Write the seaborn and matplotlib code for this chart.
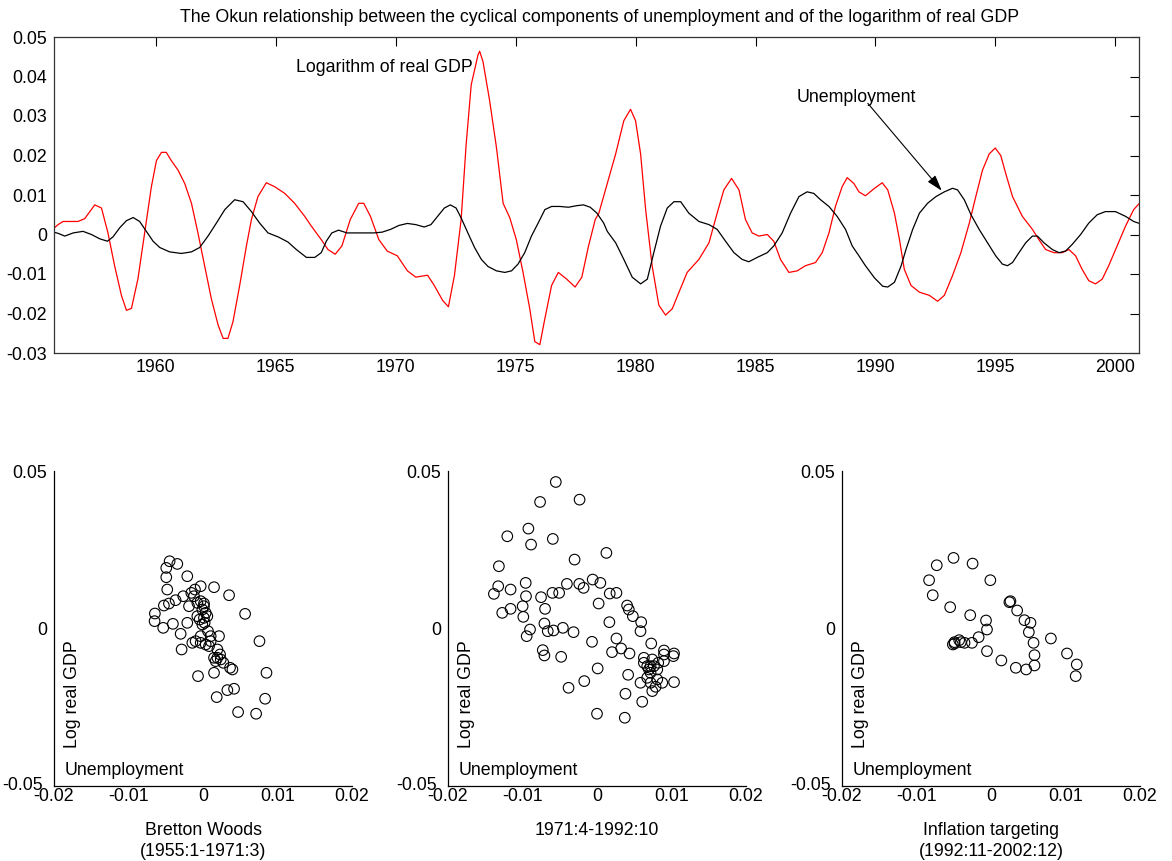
import matplotlib
matplotlib.use("Agg")
import matplotlib.pyplot as plt
import matplotlib.transforms as mtransforms
import seaborn as sns
import numpy as np

# ---------------- data ----------------
gdp_year = [1955.74, 1955.93, 1956.14, 1956.76, 1957.04, 1957.46, 1957.74, 1958.01, 1958.29, 1958.57, 1958.78,
            1958.99, 1959.26, 1959.54, 1959.82, 1960.03, 1960.24, 1960.44, 1960.65, 1960.93, 1961.21,
            1961.49, 1961.76, 1962.04, 1962.32, 1962.60, 1962.81, 1963.01, 1963.22, 1963.50, 1963.78,
            1963.99, 1964.26, 1964.61, 1964.96, 1965.38, 1965.79, 1966.21, 1966.49, 1966.90, 1967.18,
            1967.48, 1967.76, 1968.11, 1968.46, 1968.67, 1968.95, 1969.30, 1969.65, 1970.07, 1970.49,
            1970.84, 1971.33, 1971.61, 1971.96, 1972.20, 1972.45, 1972.73, 1972.94, 1973.15, 1973.43,
            1973.50, 1973.64, 1973.92, 1974.20, 1974.48, 1974.76, 1975.03, 1975.31, 1975.59, 1975.80,
            1976.01, 1976.22, 1976.50, 1976.78, 1977.13, 1977.48, 1977.76, 1978.04, 1978.32, 1978.47,
            1978.82, 1979.17, 1979.51, 1979.79, 1980.00, 1980.21, 1980.42, 1980.69, 1980.97, 1981.25,
            1981.53, 1981.81, 1982.15, 1982.64, 1983.06, 1983.40, 1983.68, 1984.00, 1984.31, 1984.58,
            1984.86, 1985.14, 1985.49, 1985.76, 1986.04, 1986.39, 1986.74, 1987.08, 1987.50, 1987.78,
            1988.06, 1988.33, 1988.61, 1988.82, 1989.10, 1989.31, 1989.58, 1989.96, 1990.28, 1990.51,
            1990.79, 1991.00, 1991.20, 1991.48, 1991.83, 1992.24, 1992.59, 1992.87, 1993.21, 1993.56,
            1993.91, 1994.18, 1994.46, 1994.74, 1994.99, 1995.22, 1995.43, 1995.71, 1996.12, 1996.54,
            1996.81, 1997.09, 1997.44, 1997.78, 1998.06, 1998.34, 1998.61, 1998.89, 1999.17, 1999.45,
            1999.72, 2000.07, 2000.42, 2000.76, 2001.00]
gdp_val = [0.0015, 0.0025, 0.0033, 0.0033, 0.0040, 0.0075, 0.0067, 0.0004, -0.0080, -0.0154, -0.0192,
           -0.0187, -0.0112, 0.0004, 0.0121, 0.0187, 0.0208, 0.0208, 0.0187, 0.0163, 0.0129,
           0.0079, 0.0004, -0.0079, -0.0163, -0.0229, -0.0263, -0.0263, -0.0221, -0.0129, -0.0029,
           0.0038, 0.0096, 0.0131, 0.0121, 0.0104, 0.0079, 0.0046, 0.0021, -0.0013, -0.0038,
           -0.0050, -0.0029, 0.0038, 0.0079, 0.0079, 0.0046, -0.0013, -0.0042, -0.0054, -0.0092,
           -0.0108, -0.0103, -0.0129, -0.0167, -0.0183, -0.0104, 0.0038, 0.0229, 0.0379, 0.0454,
           0.0464, 0.0438, 0.0338, 0.0221, 0.0079, 0.0042, -0.0013, -0.0096, -0.0188, -0.0271,
           -0.0279, -0.0213, -0.0129, -0.0096, -0.0113, -0.0133, -0.0108, -0.0029, 0.0038, 0.0054,
           0.0129, 0.0204, 0.0288, 0.0317, 0.0288, 0.0204, 0.0063, -0.0079, -0.0179, -0.0204,
           -0.0188, -0.0146, -0.0096, -0.0063, -0.0021, 0.0054, 0.0113, 0.0142, 0.0113, 0.0038,
           0.0004, -0.0004, 0.0000, -0.0017, -0.0063, -0.0096, -0.0092, -0.0079, -0.0071, -0.0046,
           0.0004, 0.0071, 0.0121, 0.0144, 0.0129, 0.0108, 0.0098, 0.0117, 0.0131, 0.0113,
           0.0054, -0.0013, -0.0088, -0.0129, -0.0146, -0.0154, -0.0169, -0.0154, -0.0104, -0.0046,
           0.0029, 0.0096, 0.0163, 0.0204, 0.0219, 0.0200, 0.0154, 0.0096, 0.0046, 0.0013,
           -0.0013, -0.0038, -0.0046, -0.0046, -0.0038, -0.0054, -0.0088, -0.0117, -0.0125, -0.0113,
           -0.0079, -0.0029, 0.0021, 0.0063, 0.0079]

unemp_year = [1955.74, 1955.93, 1956.21, 1956.56, 1956.97, 1957.32, 1957.67, 1957.99, 1958.22, 1958.50, 1958.78,
              1959.06, 1959.33, 1959.61, 1959.89, 1960.17, 1960.58, 1961.07, 1961.49, 1961.83, 1962.18,
              1962.53, 1962.88, 1963.29, 1963.64, 1963.99, 1964.33, 1964.68, 1965.10, 1965.51, 1965.86,
              1966.28, 1966.63, 1966.90, 1967.11, 1967.34, 1967.62, 1967.97, 1968.53, 1969.09, 1969.44,
              1969.79, 1970.14, 1970.49, 1970.84, 1971.19, 1971.47, 1971.75, 1972.03, 1972.28, 1972.52,
              1972.73, 1973.01, 1973.29, 1973.57, 1973.85, 1974.20, 1974.55, 1974.83, 1975.10, 1975.38,
              1975.66, 1975.94, 1976.22, 1976.50, 1976.85, 1977.20, 1977.55, 1977.83, 1978.11, 1978.39,
              1978.67, 1978.82, 1979.17, 1979.51, 1979.86, 1980.21, 1980.49, 1980.76, 1981.04, 1981.32,
              1981.60, 1981.88, 1982.22, 1982.64, 1983.06, 1983.40, 1983.75, 1984.10, 1984.44, 1984.72,
              1985.07, 1985.49, 1985.76, 1986.11, 1986.46, 1986.81, 1987.15, 1987.43, 1987.71, 1988.06,
              1988.40, 1988.75, 1989.03, 1989.31, 1989.58, 1989.96, 1990.30, 1990.51, 1990.79, 1991.07,
              1991.27, 1991.55, 1991.83, 1992.17, 1992.52, 1992.87, 1993.21, 1993.42, 1993.70, 1993.98,
              1994.32, 1994.67, 1995.01, 1995.29, 1995.50, 1995.71, 1995.98, 1996.26, 1996.54, 1996.75,
              1997.02, 1997.37, 1997.65, 1997.92, 1998.20, 1998.55, 1998.89, 1999.24, 1999.58, 2000.00,
              2000.42, 2000.76, 2001.00]
unemp_val = [0.0006, 0.0003, -0.0004, 0.0004, 0.0008, 0.0000, -0.0011, -0.0017, -0.0006, 0.0017, 0.0035,
             0.0043, 0.0033, 0.0008, -0.0017, -0.0033, -0.0044, -0.0048, -0.0044, -0.0033, -0.0004,
             0.0029, 0.0063, 0.0088, 0.0083, 0.0058, 0.0029, 0.0004, -0.0006, -0.0019, -0.0038,
             -0.0058, -0.0058, -0.0046, -0.0017, 0.0004, 0.0011, 0.0004, 0.0004, 0.0004, 0.0006,
             0.0013, 0.0023, 0.0028, 0.0025, 0.0019, 0.0025, 0.0046, 0.0067, 0.0075, 0.0067,
             0.0042, 0.0004, -0.0033, -0.0063, -0.0081, -0.0092, -0.0096, -0.0092, -0.0075, -0.0046,
             -0.0004, 0.0029, 0.0063, 0.0071, 0.0071, 0.0069, 0.0073, 0.0075, 0.0069, 0.0054,
             0.0029, 0.0008, -0.0021, -0.0063, -0.0108, -0.0125, -0.0113, -0.0046, 0.0021, 0.0067,
             0.0083, 0.0083, 0.0054, 0.0033, 0.0025, 0.0013, -0.0017, -0.0046, -0.0063, -0.0069,
             -0.0058, -0.0046, -0.0029, 0.0004, 0.0054, 0.0096, 0.0108, 0.0104, 0.0088, 0.0071,
             0.0046, 0.0013, -0.0029, -0.0054, -0.0079, -0.0110, -0.0131, -0.0133, -0.0121, -0.0079,
             -0.0038, 0.0013, 0.0054, 0.0079, 0.0096, 0.0108, 0.0117, 0.0113, 0.0088, 0.0050,
             0.0013, -0.0021, -0.0054, -0.0075, -0.0079, -0.0071, -0.0046, -0.0021, -0.0004, -0.0004,
             -0.0021, -0.0038, -0.0046, -0.0042, -0.0025, 0.0000, 0.0029, 0.0050, 0.0058, 0.0058,
             0.0046, 0.0033, 0.0028]

# Scatter panels: (unemployment, log real GDP)
bw_unemp = [-0.00448, -0.00345, -0.00493, -0.00493, -0.00480, -0.00211, -0.00031, 0.00148, 0.00350, -0.00108,
            -0.00157, -0.00265, -0.00368, -0.00525, -0.00457, -0.00646, -0.00650, -0.00534, -0.00404, -0.00300,
            -0.00287, -0.00211, -0.00188, -0.00076, -0.00031, 0.00013, -0.00009, 0.00036, -0.00076, -0.00045,
            0.00013, 0.00058, 0.00022, -0.00009, 0.00067, 0.00215, -0.00031, -0.00099, -0.00031, 0.00036,
            0.00081, 0.00103, 0.00193, 0.00229, 0.00193, 0.00170, 0.00238, 0.00274, 0.00395, 0.00363,
            0.00148, -0.00067, 0.00565, 0.00758, 0.00852, 0.00417, 0.00327, 0.00184, 0.00834, 0.00471,
            0.00713, -0.00143, 0.00103, 0.00148, 0.00013, -0.00121]
bw_gdp = [0.02135, 0.02050, 0.01924, 0.01628, 0.01237, 0.01660, 0.01342, 0.01311, 0.01057, 0.01237,
          0.01131, 0.01025, 0.00899, 0.00729, 0.00793, 0.00476, 0.00233, 0.00021, 0.00148, -0.00169,
          -0.00666, 0.00180, 0.00708, 0.00814, 0.00867, 0.00793, 0.00603, 0.00497, 0.00391, 0.00285,
          0.00338, 0.00391, 0.00180, 0.00127, -0.00085, -0.00243, -0.00243, -0.00402, -0.00455, -0.00507,
          -0.00560, -0.00402, -0.00666, -0.00825, -0.00930, -0.01036, -0.00983, -0.01089, -0.01300, -0.01247,
          -0.01406, -0.01512, 0.00465, -0.00402, -0.01406, -0.01913, -0.01956, -0.02178, -0.02230, -0.02653,
          -0.02706, -0.00455, -0.00243, -0.00930, 0.00708, 0.01025]

mid_unemp = [-0.00553, -0.00764, -0.00234, -0.00921, -0.01204, -0.00593, -0.00885, 0.00126, -0.00301, -0.01317,
             -0.01384, -0.01326, -0.01160, -0.00957, -0.00953, -0.00751, -0.00697, -0.00998, -0.01272, -0.01160,
             -0.00989, -0.00899, -0.00944, -0.00706, -0.00661, -0.00584, -0.00458, -0.00315, -0.00728, -0.00706,
             -0.00481, -0.00598, -0.00508, -0.00404, -0.00238, -0.00180, -0.00058, 0.00045, 0.00022, 0.00171,
             0.00261, 0.00166, 0.00404, 0.00427, 0.00481, 0.00593, 0.00584, -0.00067, 0.00261, 0.00202,
             0.00324, 0.00436, 0.00728, 0.00899, 0.01034, 0.01025, 0.00899, 0.00629, 0.00674, 0.00697,
             0.00764, 0.00809, 0.00719, 0.00674, 0.00809, 0.00876, 0.00584, 0.01034, 0.00418, 0.00009,
             -0.00171, -0.00382, 0.00382, 0.00607, 0.00000, 0.00373, 0.00742, 0.00787, 0.00719, 0.00629,
             0.00822, 0.00742, 0.00719, 0.00899]
mid_gdp = [0.04651, 0.04017, 0.04091, 0.03171, 0.02928, 0.02844, 0.02664, 0.02400, 0.02188, 0.01977,
           0.01099, 0.01342, 0.01237, 0.01448, 0.01025, 0.00994, 0.00624, 0.00708, 0.00497, 0.00624,
           0.00370, -0.00032, -0.00243, 0.00159, -0.00085, -0.00063, 0.00021, -0.00116, -0.00687, -0.00856,
           -0.00899, 0.01131, 0.01131, 0.01416, 0.01416, 0.01290, 0.01554, 0.01448, 0.00793, 0.01110,
           0.01131, 0.00201, 0.00729, 0.00603, 0.00391, 0.00201, -0.00085, -0.00423, -0.00317, -0.00750,
           -0.00634, -0.00793, -0.00476, -0.00698, -0.00793, -0.00877, -0.01036, -0.01089, -0.01195, -0.01300,
           -0.01195, -0.01300, -0.01406, -0.01564, -0.01617, -0.01723, -0.01723, -0.01702, -0.01469, -0.01268,
           -0.01670, -0.01882, -0.02072, -0.02326, -0.02706, -0.02833, -0.01987, -0.01850, -0.01195, -0.00930,
           -0.01089, -0.00983, -0.01723, -0.00825]

it_unemp = [-0.00503, -0.00728, -0.00247, -0.00831, -0.00009, -0.00782, -0.00548, -0.00279, -0.00067, -0.00054,
            -0.00166, -0.00256, -0.00355, -0.00427, -0.00490, -0.00512, -0.00054, 0.00139, 0.00333, 0.00472,
            0.00584, 0.00584, 0.00571, 0.00508, 0.00530, 0.00449, 0.00351, 0.00247, 0.00261, 0.00804,
            0.01020, 0.01151, 0.01137, -0.00490, -0.00404]
it_gdp = [0.02241, 0.02008, 0.02061, 0.01533, 0.01533, 0.01057, 0.00677, 0.00423, 0.00254, -0.00032,
          -0.00275, -0.00455, -0.00455, -0.00370, -0.00433, -0.00507, -0.00719, -0.01015, -0.01247, -0.01300,
          -0.01173, -0.00846, -0.00455, -0.00116, 0.00180, 0.00264, 0.00571, 0.00835, 0.00867, -0.00317,
          -0.00793, -0.01142, -0.01512, -0.00476, -0.00433]

panel_labels = ["Bretton Woods\n(1955:1-1971:3)", "1971:4-1992:10", "Inflation targeting\n(1992:11-2002:12)"]
title = "The Okun relationship between the cyclical components of unemployment and of the logarithm of real GDP"

# ---------------- style ----------------
sns.set_style("white")
plt.rcParams["font.family"] = ["Liberation Sans", "DejaVu Sans"]
plt.rcParams["axes.unicode_minus"] = False
for k in ("text.color", "axes.labelcolor", "xtick.color", "ytick.color", "axes.edgecolor"):
    plt.rcParams[k] = "black"
FS = 12.8
W, H = 1172, 861


def fmt(v, pos=None):
    return "%g" % round(v, 6)


fig = plt.figure(figsize=(W / 100, H / 100), dpi=100)

# ---------------- top time-series panel ----------------
ax = fig.add_axes([53.5 / W, (H - 353) / H, (1138.7 - 53.5) / W, (353 - 37) / H])
sns.lineplot(x=gdp_year, y=gdp_val, ax=ax, color="red", linewidth=0.9, sort=False, estimator=None)
sns.lineplot(x=unemp_year, y=unemp_val, ax=ax, color="black", linewidth=0.9, sort=False, estimator=None)
ax.set_xlim(1955.74, 2000.97)
ax.set_ylim(-0.03, 0.05)
ax.set_xticks(np.arange(1960, 2001, 5))
ax.set_yticks(np.round(np.arange(-0.03, 0.0501, 0.01), 2))
ax.yaxis.set_major_formatter(matplotlib.ticker.FuncFormatter(fmt))
ax.tick_params(direction="in", length=6.5, width=0.8, top=True, right=True, labelsize=FS, pad=4.5)
for sp in ax.spines.values():
    sp.set_color("#333333")
    sp.set_linewidth(0.9)
ax.set_xlabel("")
ax.set_ylabel("")
ax.text(1965.83, 0.0423, "Logarithm of real GDP", fontsize=FS, ha="left", va="center")
ax.text(1986.7, 0.0348, "Unemployment", fontsize=FS, ha="left", va="center")
ax.annotate("", xy=(1992.76, 0.0111), xytext=(1989.68, 0.0332),
            arrowprops=dict(arrowstyle="-|>,head_length=0.8,head_width=0.25", color="black",
                            lw=0.8, shrinkA=0, shrinkB=0, mutation_scale=12))
fig.text(600 / W, 1 - 17 / H, title, fontsize=FS, ha="center", va="center")

# ---------------- scatter panels ----------------
lefts = [54, 448, 842]
data = [(bw_unemp, bw_gdp), (mid_unemp, mid_gdp), (it_unemp, it_gdp)]
for left, (ux, gy), lab in zip(lefts, data, panel_labels):
    a = fig.add_axes([left / W, (H - 786) / H, 298 / W, 315 / H])
    sns.scatterplot(x=ux, y=gy, ax=a, marker="o", s=58, facecolor="none",
                    edgecolor="black", linewidth=0.8)
    a.set_xlim(-0.02, 0.02)
    a.set_ylim(-0.05, 0.05)
    a.set_xticks([-0.02, -0.01, 0, 0.01, 0.02])
    a.set_yticks([-0.05, 0, 0.05])
    a.xaxis.set_major_formatter(matplotlib.ticker.FuncFormatter(fmt))
    a.yaxis.set_major_formatter(matplotlib.ticker.FuncFormatter(fmt))
    a.tick_params(direction="in", length=3.5, width=0.8, labelsize=FS)
    a.tick_params(axis="x", pad=1.5)
    a.tick_params(axis="y", pad=5)
    a.spines["top"].set_visible(False)
    a.spines["right"].set_visible(False)
    for s in ("left", "bottom"):
        a.spines[s].set_color("black")
        a.spines[s].set_linewidth(0.9)
    # the lowest y label sits slightly left and up, as in the reference
    lo = a.get_yticklabels()[0]
    lo.set_transform(lo.get_transform() +
                     mtransforms.ScaledTranslation(-4 / 100, 2 / 100, fig.dpi_scale_trans))
    a.set_xlabel(lab, fontsize=FS, labelpad=12, linespacing=1.3)
    a.set_ylabel("")
    a.text(0.062, 0.12, "Log real GDP", transform=a.transAxes, rotation=90,
           fontsize=FS, ha="center", va="bottom")
    a.text(0.035, 0.05, "Unemployment", transform=a.transAxes,
           fontsize=FS, ha="left", va="center")

fig.savefig("out.png", dpi=100)
